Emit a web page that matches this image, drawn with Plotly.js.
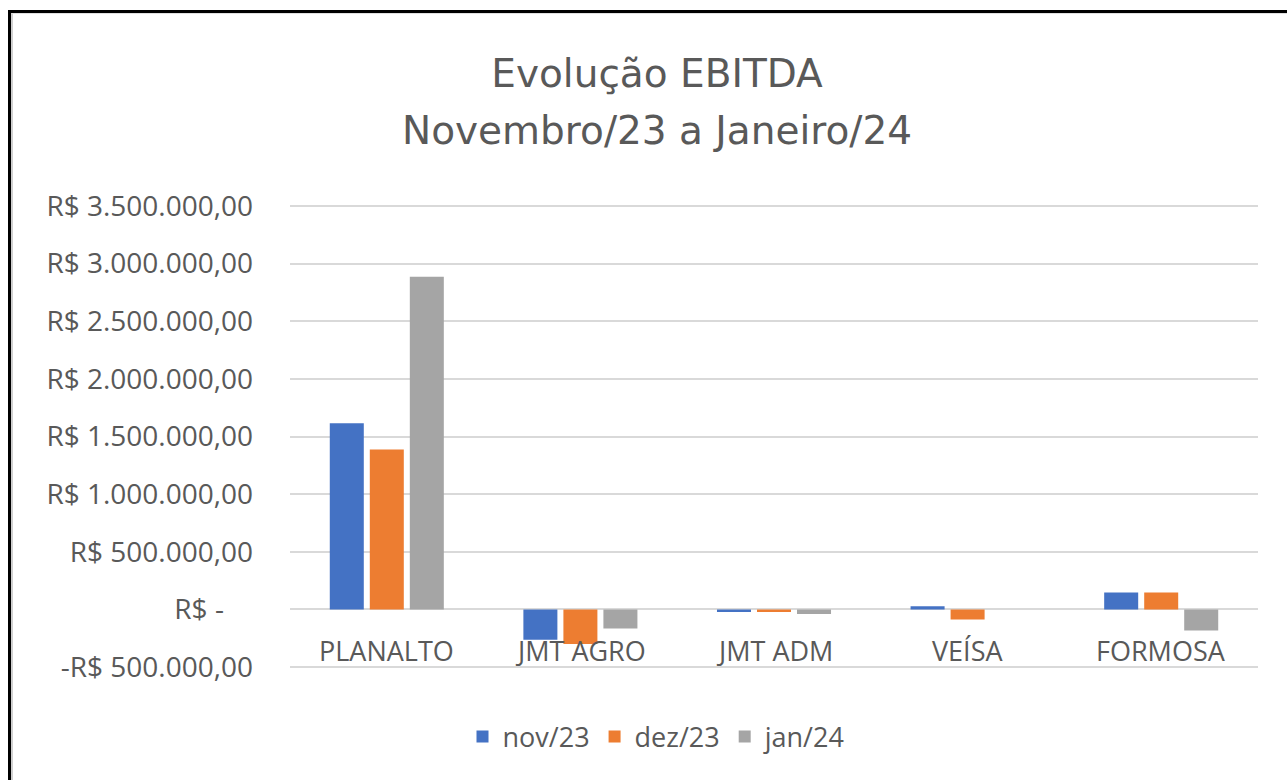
<!DOCTYPE html>
<html>
<head>
<meta charset="utf-8">
<script src="https://cdn.plot.ly/plotly-3.0.1.min.js"></script>
<style>
html,body{margin:0;padding:0;background:#fff;overflow:hidden;}
#chart{position:absolute;left:0;top:0;width:1287px;height:780px;}
#frame{position:absolute;left:8px;top:10px;width:2000px;height:2000px;border-left:3px solid #000;border-top:3px solid #000;pointer-events:none;}
#frame2{position:absolute;left:11px;top:13px;width:2000px;height:2000px;border-left:2px solid #d0d0d0;border-top:1px solid #e0e0e0;pointer-events:none;}
</style>
</head>
<body>
<div id="chart"></div>
<div id="frame"></div>
<div id="frame2"></div>
<script>
const categories = ["PLANALTO", "JMT AGRO", "JMT ADM", "VEÍSA", "FORMOSA"];
const seriesNames = ["nov/23", "dez/23", "jan/24"];
const nov23 = [1614000, -262000, -22000, 27000, 148000];
const dez23 = [1387000, -300000, -22000, -87000, 148000];
const jan24 = [2886000, -166000, -40000, 0, -183000];
const tickValues = [-500000, 0, 500000, 1000000, 1500000, 2000000, 2500000, 3000000, 3500000];
const tickLabels = ["-R$ 500.000,00", "R$ -    ", "R$ 500.000,00", "R$ 1.000.000,00", "R$ 1.500.000,00", "R$ 2.000.000,00", "R$ 2.500.000,00", "R$ 3.000.000,00", "R$ 3.500.000,00"];
const titleLine1 = "Evolução EBITDA";
const titleLine2 = "Novembro/23 a Janeiro/24";

const colors = ["#4472C4", "#ED7D31", "#A5A5A5"];
const FONT = "Open Sans, Noto Sans, sans-serif";
const TFONT = "DejaVu Sans, sans-serif";
const TXT = "#595959";

const values = [nov23, dez23, jan24];
const traces = values.map((v, i) => ({
  type: "bar",
  name: seriesNames[i],
  x: categories,
  y: v,
  marker: {color: colors[i]},
  hoverinfo: "x+y+name"
}));

const PT = 203, PB = 110, PH = 780 - PT - PB;
const annotations = categories.map(c => ({
  x: c, y: 0, xref: "x", yref: "y",
  text: c, showarrow: false,
  yanchor: "top", yshift: -21,
  font: {family: FONT, size: 27, color: TXT}
}));
annotations.push({
  x: (657 - 290) / 968, y: (780 - PB - 131) / PH, xref: "paper", yref: "paper",
  xanchor: "center", yanchor: "middle",
  text: titleLine2, showarrow: false,
  font: {family: TFONT, size: 39, color: TXT}
});

const layout = {
  width: 1287, height: 780,
  paper_bgcolor: "#ffffff", plot_bgcolor: "#ffffff",
  margin: {l: 290, r: 29, t: PT, b: PB},
  title: {text: titleLine1, x: 657 / 1287, xanchor: "center", xref: "container",
          y: 1 - 73 / 780, yanchor: "middle", yref: "container",
          font: {family: TFONT, size: 39, color: TXT}},
  barmode: "group",
  bargap: 0.38,
  bargroupgap: 0.15,
  showlegend: true,
  legend: {orientation: "h", x: (657 - 290) / 968, xanchor: "center", y: -(737 - (780 - PB)) / PH, yanchor: "middle",
           font: {family: FONT, size: 27, color: TXT}, traceorder: "normal"},
  xaxis: {showticklabels: false, showgrid: false, zeroline: false, showline: false, ticks: ""},
  yaxis: {range: [-525000, 3525000], tickvals: tickValues, ticktext: tickLabels,
          showgrid: true, gridcolor: "#d9d9d9", gridwidth: 2,
          zeroline: true, zerolinecolor: "#d9d9d9", zerolinewidth: 2,
          showline: false, ticks: "", ticklabelstandoff: 36,
          tickfont: {family: FONT, size: 28, color: TXT}},
  annotations: annotations
};

Plotly.newPlot("chart", traces, layout, {displayModeBar: false});
</script>
</body>
</html>
